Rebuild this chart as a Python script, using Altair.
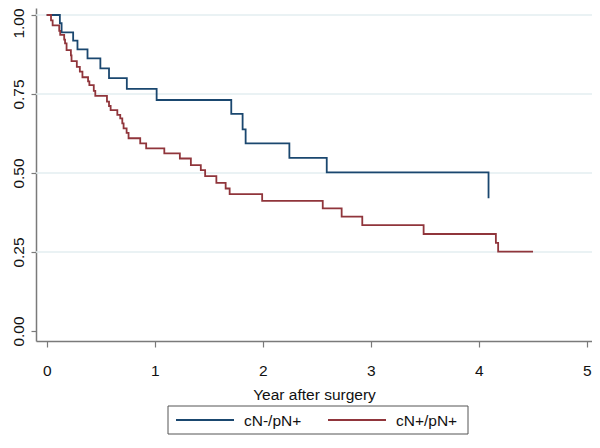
import altair as alt
import pandas as pd

# Kaplan-Meier curves
blue_name = "cN-/pN+"
blue_t = [0, 0.122, 0.138, 0.245, 0.285, 0.378, 0.497, 0.577, 0.742, 1.018,
          1.709, 1.814, 1.842, 2.247, 2.593, 4.091]
blue_s = [1.0, 0.974, 0.945, 0.919, 0.891, 0.863, 0.831, 0.800, 0.766, 0.731,
          0.687, 0.638, 0.594, 0.548, 0.502, 0.420]

red_name = "cN+/pN+"
red_t = [0, 0.040, 0.055, 0.116, 0.125, 0.162, 0.170, 0.184, 0.224, 0.230,
         0.279, 0.307, 0.331, 0.383, 0.395, 0.436, 0.450, 0.558, 0.577, 0.592,
         0.654, 0.681, 0.700, 0.712, 0.740, 0.758, 0.866, 0.921, 1.089, 1.233,
         1.335, 1.427, 1.467, 1.571, 1.657, 1.694, 1.995, 2.556, 2.731, 2.922,
         3.490, 4.159, 4.180, 4.503]
red_s = [1.0, 0.983, 0.967, 0.950, 0.937, 0.922, 0.910, 0.889, 0.872, 0.854,
         0.836, 0.821, 0.803, 0.790, 0.778, 0.760, 0.744, 0.726, 0.712, 0.699,
         0.684, 0.673, 0.657, 0.641, 0.627, 0.610, 0.594, 0.578, 0.562, 0.546,
         0.525, 0.509, 0.490, 0.469, 0.451, 0.433, 0.412, 0.388, 0.362, 0.335,
         0.307, 0.279, 0.251, 0.251]

x_ticks = [0, 1, 2, 3, 4, 5]
y_ticks = [0, 0.25, 0.5, 0.75, 1.0]
grid_values = [0.25, 0.5, 0.75, 1.0]

x_title = "Year after surgery"
series_names = [blue_name, red_name]
series_colors = ["#1a476f", "#90353b"]

rows = []
for i, (t, s) in enumerate(zip(blue_t, blue_s)):
    rows.append({"group": blue_name, "t": t, "s": s, "i": i})
for i, (t, s) in enumerate(zip(red_t, red_s)):
    rows.append({"group": red_name, "t": t, "s": s, "i": i})
df = pd.DataFrame(rows)
grid_df = pd.DataFrame({"g": grid_values})

FONT = "Liberation Sans"
FS = 15.5

xscale = alt.Scale(domain=[-0.099, 5.049], nice=False, zero=False)
yscale = alt.Scale(domain=[-0.0316, 1.0222], nice=False, zero=False)
cscale = alt.Scale(domain=series_names, range=series_colors)

grid = alt.Chart(grid_df).mark_rule(color="#e3eef0", strokeWidth=1.3).encode(
    y=alt.Y("g:Q", scale=yscale)
)

lines = alt.Chart(df).mark_line(interpolate="step-after", strokeWidth=1.8).encode(
    x=alt.X("t:Q", scale=xscale,
            axis=alt.Axis(values=x_ticks, format="d", title=x_title,
                          grid=False, tickSize=6, labelPadding=16,
                          titlePadding=9, labelFlush=False)),
    y=alt.Y("s:Q", scale=yscale,
            axis=alt.Axis(values=y_ticks, format=".2f", title=None,
                          grid=False, tickSize=5, labelAngle=270,
                          labelAlign="center", labelBaseline="alphabetic",
                          labelPadding=8, labelFlush=False,
                          labelOffset={"condition": {"test": "datum.value == 1",
                                                     "value": 8},
                                       "value": 0})),
    color=alt.Color("group:N", scale=cscale, legend=None),
    detail="group:N",
    order="i:Q",
)

# legend drawn as a framed row of line samples and labels under the axis title
LEG_Y = 412
leg_box = alt.Chart(pd.DataFrame({"k": [0]})).mark_rect(
    fill="white", stroke="#555", strokeWidth=1
).encode(x=alt.value(132), x2=alt.value(432), y=alt.value(LEG_Y - 14),
         y2=alt.value(LEG_Y + 14))

leg_layers = [leg_box]
for k, name in enumerate(series_names):
    x0 = 140 + 152 * k
    leg_df = pd.DataFrame({"group": [name]})
    leg_layers.append(
        alt.Chart(leg_df).mark_rule(strokeWidth=2).encode(
            x=alt.value(x0), x2=alt.value(x0 + 58), y=alt.value(LEG_Y),
            color=alt.Color("group:N", scale=cscale, legend=None))
    )
    leg_layers.append(
        alt.Chart(leg_df).mark_text(align="left", baseline="middle", font=FONT,
                                    fontSize=FS, color="#111").encode(
            x=alt.value(x0 + 68), y=alt.value(LEG_Y + 1), text="group:N")
    )

chart = alt.layer(grid, lines, *leg_layers).properties(
    width=556, height=333,
    autosize=alt.AutoSizeParams(type="none"),
    padding={"left": 28, "top": 0, "right": 0, "bottom": 94},
).configure_view(strokeWidth=0).configure_axis(
    labelFont=FONT, labelFontSize=FS, labelColor="#111",
    titleFont=FONT, titleFontSize=FS, titleFontWeight="normal", titleColor="#111",
    domainColor="#7a7a7a", domainWidth=1.5, tickColor="#7a7a7a", tickWidth=1.2,
)

chart.save("out.html", embed_options={"renderer": "svg", "actions": False})
